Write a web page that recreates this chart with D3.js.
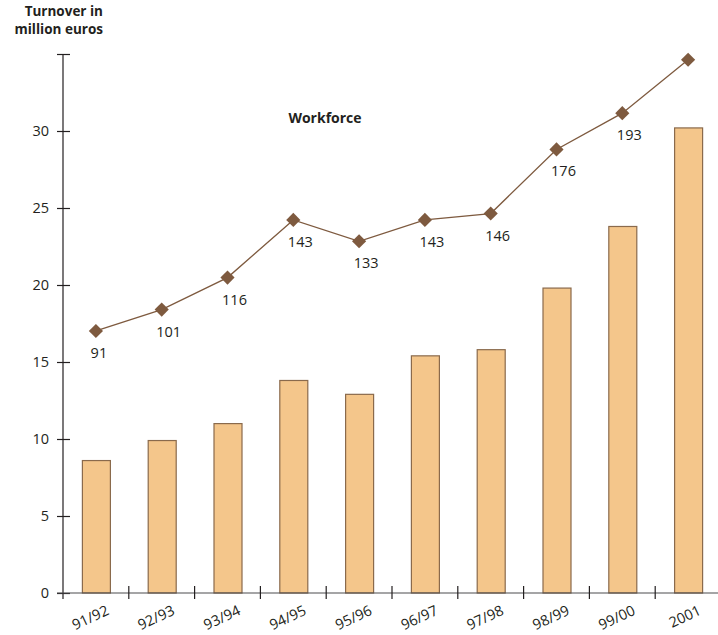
<!DOCTYPE html>
<html>
<head>
<meta charset="utf-8">
<script src="https://cdn.jsdelivr.net/npm/d3@7"></script>
<style>
  html, body { margin: 0; padding: 0; background: #fff; }
  svg text { font-family: "Open Sans", "Noto Sans", sans-serif; fill: #231f20; }
</style>
</head>
<body>
<svg id="chart" width="718" height="635"></svg>
<script>
// Turnover (million euros) per business year, with workforce headcount
const years = ["91/92", "92/93", "93/94", "94/95", "95/96", "96/97", "97/98", "98/99", "99/00", "2001"];
const turnover = [8.6, 9.9, 11.0, 13.8, 12.9, 15.4, 15.8, 19.8, 23.8, 30.2];
const workforce = [91, 101, 116, 143, 133, 143, 146, 176, 193, 218];
const workforceLabels = ["91", "101", "116", "143", "133", "143", "146", "176", "193", ""];
const yTicks = [0, 5, 10, 15, 20, 25, 30, 35];
const yTickLabels = ["0", "5", "10", "15", "20", "25", "30", ""];

const svg = d3.select("#chart");
const plotLeft = 63, plotRight = 721, plotTop = 54, plotBottom = 593;

const x = d3.scaleBand().domain(years).range([plotLeft, plotRight]).paddingInner(0).paddingOuter(0);
const y = d3.scaleLinear().domain([0, 35]).range([plotBottom, plotTop]);
// Workforce is drawn on its own (unlabelled) scale over the same vertical extent
const yW = d3.scaleLinear().domain([-31.7, 220.7]).range([plotBottom, plotTop]);

const barColor = "#f4c68b", barStroke = "#8a6a4c", lineColor = "#7e5a3f";

// Bars
const barW = 28;
svg.append("g").selectAll("rect").data(years).join("rect")
  .attr("x", d => x(d) + x.bandwidth() / 2 - barW / 2 + 0.5)
  .attr("y", (d, i) => y(turnover[i]))
  .attr("width", barW)
  .attr("height", (d, i) => y(0) - y(turnover[i]))
  .attr("fill", barColor)
  .attr("stroke", barStroke)
  .attr("stroke-width", 1.2);

// Y axis with ticks crossing the line
const yAxis = d3.axisLeft(y).tickValues(yTicks).tickSize(0).tickPadding(14)
  .tickFormat((d, i) => yTickLabels[i]);
const gy = svg.append("g").attr("transform", `translate(${plotLeft},0)`).call(yAxis);
gy.select(".domain").remove();
gy.selectAll("text").attr("font-size", 14.5).attr("fill", "#231f20").attr("font-family", "'Open Sans', sans-serif");
gy.selectAll(".tick").append("line").attr("x1", -6).attr("x2", 7).attr("stroke", "#231f20").attr("stroke-width", 1.2);
svg.append("line").attr("x1", plotLeft).attr("x2", plotLeft).attr("y1", plotTop).attr("y2", plotBottom + 6)
  .attr("stroke", "#231f20").attr("stroke-width", 1.2);

// X axis baseline and band separators
svg.append("line").attr("x1", plotLeft - 6).attr("x2", 718).attr("y1", plotBottom).attr("y2", plotBottom)
  .attr("stroke", "#4d4d4f").attr("stroke-width", 1.2);
svg.append("g").selectAll("line").data(years.slice(1)).join("line")
  .attr("x1", d => x(d)).attr("x2", d => x(d))
  .attr("y1", plotBottom - 7).attr("y2", plotBottom + 6)
  .attr("stroke", "#231f20").attr("stroke-width", 1.2);

// Rotated category labels
svg.append("g").selectAll("text").data(years).join("text")
  .attr("transform", d => `translate(${x(d) + x.bandwidth() / 2 + 14},${plotBottom + 21}) rotate(-25)`)
  .attr("text-anchor", "end")
  .attr("font-size", 14.5)
  .text(d => d);

// Workforce line
const cx = d => x(d) + x.bandwidth() / 2;
const line = d3.line().x((d, i) => cx(years[i])).y(d => yW(d));
svg.append("path").datum(workforce).attr("d", line)
  .attr("fill", "none").attr("stroke", lineColor).attr("stroke-width", 1.3);

svg.append("g").selectAll("path").data(workforce).join("path")
  .attr("d", d3.symbol().type(d3.symbolDiamond2).size(128))
  .attr("transform", (d, i) => `translate(${cx(years[i])},${yW(d)})`)
  .attr("fill", lineColor);

svg.append("g").selectAll("text").data(workforce).join("text")
  .attr("x", (d, i) => cx(years[i]) + (i === 0 ? 3 : 7))
  .attr("y", d => yW(d) + 27)
  .attr("text-anchor", "middle")
  .attr("font-size", 14.5)
  .text((d, i) => workforceLabels[i]);

// Titles
const title = svg.append("text").attr("text-anchor", "end").attr("font-size", 13.5).attr("font-weight", "bold");
title.append("tspan").attr("x", 103).attr("y", 16).text("Turnover in");
title.append("tspan").attr("x", 103).attr("y", 34).text("million euros");

svg.append("text").attr("x", 325).attr("y", 123).attr("text-anchor", "middle")
  .attr("font-size", 14).attr("font-weight", "bold").text("Workforce");
</script>
</body>
</html>
